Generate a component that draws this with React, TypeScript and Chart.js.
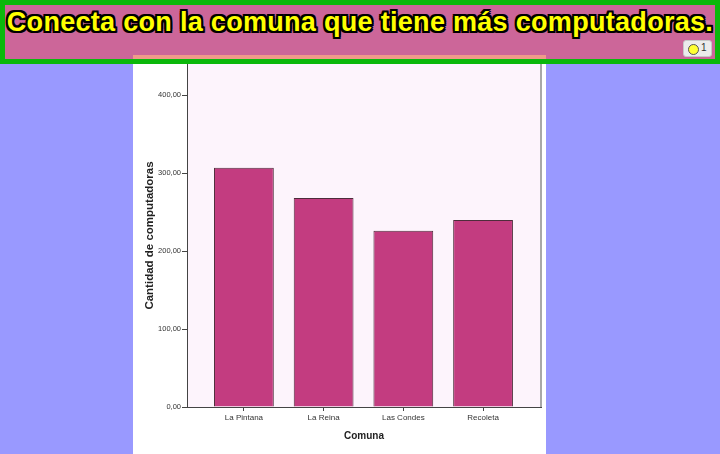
import React, { useEffect, useRef } from "react";
import { Chart, registerables } from "chart.js";

Chart.register(...registerables);

const titleText = "Conecta con la comuna que tiene más computadoras.";
const categories = ["La Pintana", "La Reina", "Las Condes", "Recoleta"];
const values = [307, 268, 226, 240];
const yTicks = [0, 100, 200, 300, 400];
const xTitle = "Comuna";
const yTitle = "Cantidad de computadoras";

const FONT = "Arial, 'Liberation Sans', sans-serif";

const plotBg = {
  id: "plotBg",
  beforeDraw(chart: any) {
    const { ctx, chartArea } = chart;
    if (!chartArea) return;
    ctx.save();
    ctx.fillStyle = "#fdf4fc";
    ctx.fillRect(chartArea.left, chartArea.top, chartArea.right - chartArea.left, chartArea.bottom - chartArea.top);
    ctx.restore();
  },
  afterDraw(chart: any) {
    const { ctx, chartArea } = chart;
    ctx.save();
    ctx.fillStyle = "#a8a8a8";
    ctx.fillRect(chartArea.right - 1, chartArea.top, 2, chartArea.bottom - chartArea.top);
    ctx.restore();
  },
};

export default function App() {
  const ref = useRef<HTMLCanvasElement | null>(null);

  useEffect(() => {
    if (!ref.current) return;
    const chart = new Chart(ref.current, {
      type: "bar",
      data: {
        datasets: [
          {
            data: values.map((v, i) => ({ x: i, y: v })),
            backgroundColor: "#c33c80",
            borderColor: "#4e2c3b",
            borderWidth: 1,
            barPercentage: 0.75,
            categoryPercentage: 1,
          },
        ],
      },
      options: {
        animation: false,
        responsive: false,
        devicePixelRatio: 1,
        layout: { padding: { left: 0, right: 5, top: 0, bottom: 0 } },
        plugins: { legend: { display: false }, tooltip: { enabled: false } },
        scales: {
          x: {
            type: "linear",
            offset: false,
            min: -0.714,
            max: 3.727,
            afterBuildTicks: (axis: any) => {
              axis.ticks = categories.map((_, i) => ({ value: i }));
            },
            afterFit: (axis: any) => {
              axis.height = 47;
              axis.paddingLeft = 0;
              axis.paddingRight = 0;
            },
            grid: { display: true, offset: false, drawOnChartArea: false, drawTicks: true, tickLength: 4, color: "#444" },
            border: { display: true, color: "#444", width: 1 },
            ticks: {
              padding: 2,
              color: "#333",
              font: { family: FONT, size: 8 },
              maxRotation: 0,
              autoSkip: false,
              callback: (v: any) => categories[v] ?? "",
            },
            title: {
              display: true,
              text: xTitle,
              color: "#222",
              font: { family: FONT, size: 10, weight: "bold" },
              padding: { top: 0, bottom: 12 },
            },
          },
          y: {
            min: 0,
            max: 440,
            afterBuildTicks: (axis: any) => {
              axis.ticks = yTicks.map((v) => ({ value: v }));
            },
            afterFit: (axis: any) => {
              axis.width = 54;
              axis.paddingTop = 0;
              axis.paddingBottom = 0;
            },
            grid: { display: true, drawOnChartArea: false, drawTicks: true, tickLength: 5, color: "#444" },
            border: { display: true, color: "#444", width: 1 },
            ticks: {
              padding: 1,
              color: "#333",
              font: { family: FONT, size: 7.5 },
              callback: (v: any) => Number(v).toFixed(2).replace(".", ","),
            },
            title: {
              display: true,
              text: yTitle,
              color: "#222",
              font: { family: FONT, size: 11.5, weight: "bold" },
              padding: { top: 10, bottom: 0 },
            },
          },
        },
      },
      plugins: [plotBg],
    } as any);
    return () => chart.destroy();
  }, []);

  const outline =
    "-2px -2px 0 #000, 2px -2px 0 #000, -2px 2px 0 #000, 2px 2px 0 #000, 0 -2px 0 #000, 0 2px 0 #000, -2px 0 0 #000, 2px 0 0 #000";

  return (
    <div style={{ position: "fixed", left: 0, top: 0, width: 720, height: 454, background: "#9999ff", overflow: "hidden" }}>
      <div
        style={{
          position: "absolute",
          left: 0,
          top: 0,
          width: 720,
          height: 64,
          boxSizing: "border-box",
          border: "5px solid #0bb80b",
          background: "#cc6699",
        }}
      >
        <div
          style={{
            paddingTop: 2,
            lineHeight: "30px",
            fontFamily: FONT,
            fontWeight: "bold",
            fontSize: 27,
            letterSpacing: 0.3,
            color: "#ffff00",
            textAlign: "center",
            whiteSpace: "nowrap",
            textShadow: outline,
          }}
        >
          {titleText}
        </div>
      </div>
      <div style={{ position: "absolute", left: 133, top: 55, width: 413, height: 4, background: "#f09a8a" }} />
      <div
        style={{
          position: "absolute",
          left: 683,
          top: 40,
          width: 29,
          height: 17,
          boxSizing: "border-box",
          background: "#ececec",
          border: "1px solid #c8c8c8",
          borderRadius: 3,
        }}
      >
        <div
          style={{
            position: "absolute",
            left: 4,
            top: 3,
            width: 9,
            height: 9,
            borderRadius: "50%",
            background: "#ffff33",
            border: "1px solid #555",
          }}
        />
        <div style={{ position: "absolute", left: 17, top: 1, fontFamily: FONT, fontSize: 10, color: "#333" }}>1</div>
      </div>
      <div style={{ position: "absolute", left: 133, top: 64, width: 413, height: 390, background: "#ffffff" }}>
        <canvas ref={ref} width={413} height={390} style={{ display: "block" }} />
      </div>
    </div>
  );
}
